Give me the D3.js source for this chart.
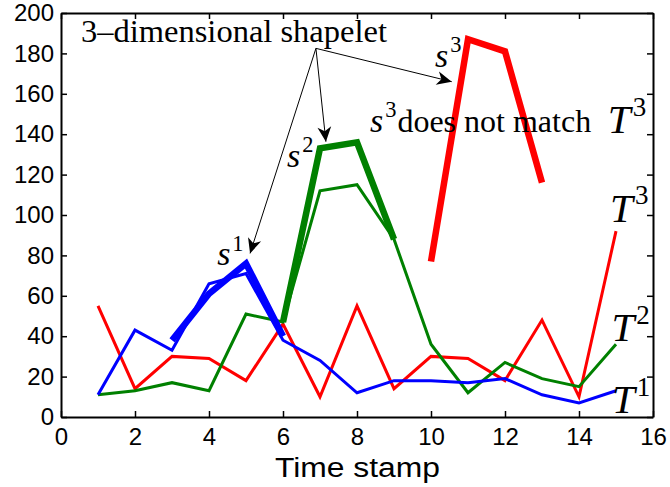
<!DOCTYPE html>
<html>
<head>
<meta charset="utf-8">
<script src="https://cdn.jsdelivr.net/npm/d3@7/dist/d3.min.js"></script>
<style>
  body { margin: 0; background: #fff; }
  svg { display: block; }
</style>
</head>
<body>
<div id="chart"></div>
<script>
// time stamps and the three series
const timeStamps = [1, 2, 3, 4, 5, 6, 7, 8, 9, 10, 11, 12, 13, 14, 15];
const seriesT1 = [11, 43, 33, 66, 71, 38, 28, 12, 18, 18, 17, 19, 11, 7, 13];
const seriesT2 = [11, 13, 17, 13, 51, 47, 112, 115, 88, 36, 12, 27, 19, 15, 36];
const seriesT3 = [55, 14, 30, 29, 18, 46, 10, 55, 14, 30, 29, 18, 48, 10, 92];

// the shapelet pieces (thick lines)
const s1Stamps = [3, 4, 5, 6];
const s1Values = [38, 61, 76, 40];
const s2Stamps = [6, 7, 8, 9];
const s2Values = [47, 133, 136, 88];
const s3Stamps = [10, 11, 12, 13];
const s3Values = [77, 187, 181, 116];

const xTicks = [0, 2, 4, 6, 8, 10, 12, 14, 16];
const yTicks = [0, 20, 40, 60, 80, 100, 120, 140, 160, 180, 200];

const width = 670, height = 487;
const margin = {top: 13, right: 17, bottom: 70, left: 61};

const svg = d3.select('#chart').append('svg')
    .attr('width', width)
    .attr('height', height);

const x = d3.scaleLinear().domain([0, 16]).range([margin.left, width - margin.right]);
const y = d3.scaleLinear().domain([0, 200]).range([height - margin.bottom, margin.top]);

const blue = '#0000ff', green = '#008000', red = '#ff0000';

const line = d3.line()
    .x(d => x(d[0]))
    .y(d => y(d[1]));

const zip = (xs, ys) => xs.map((v, i) => [v, ys[i]]);

// thin series first, then the thick shapelets on top
const lines = [
  {pts: zip(timeStamps, seriesT3), color: red, w: 3},
  {pts: zip(timeStamps, seriesT2), color: green, w: 3},
  {pts: zip(timeStamps, seriesT1), color: blue, w: 3},
  {pts: zip(s1Stamps, s1Values), color: blue, w: 6.5},
  {pts: zip(s2Stamps, s2Values), color: green, w: 6.5},
  {pts: zip(s3Stamps, s3Values), color: red, w: 6.5}
];

svg.append('g').selectAll('path')
  .data(lines)
  .join('path')
    .attr('d', d => line(d.pts))
    .attr('fill', 'none')
    .attr('stroke', d => d.color)
    .attr('stroke-width', d => d.w)
    .attr('stroke-linejoin', 'miter');

// axes box with inward ticks (matlab style)
const tickLen = 6;
const axisFont = '"Liberation Sans", Arial, sans-serif';

const bottomAxis = d3.axisBottom(x).tickValues(xTicks).tickSizeInner(-tickLen).tickSizeOuter(0).tickPadding(11);
const topAxis = d3.axisTop(x).tickValues(xTicks).tickSizeInner(-tickLen).tickSizeOuter(0).tickFormat('');
const leftAxis = d3.axisLeft(y).tickValues(yTicks).tickSizeInner(-tickLen).tickSizeOuter(0).tickPadding(12);
const rightAxis = d3.axisRight(y).tickValues(yTicks).tickSizeInner(-tickLen).tickSizeOuter(0).tickFormat('');

svg.append('g').attr('transform', `translate(0,${y(0)})`).call(bottomAxis);
svg.append('g').attr('transform', `translate(0,${y(200)})`).call(topAxis);
const gy = svg.append('g').attr('transform', `translate(${x(0)},0)`).call(leftAxis);
svg.append('g').attr('transform', `translate(${x(16)},0)`).call(rightAxis);

svg.selectAll('.domain').attr('stroke', '#000').attr('stroke-width', 2);
svg.selectAll('.tick line').attr('stroke', '#000').attr('stroke-width', 1.5);
svg.selectAll('.tick text')
    .attr('font-family', axisFont)
    .attr('font-size', 24)
    .attr('fill', '#000');
gy.selectAll('.tick text').attr('x', -7);

// x label, stretched a little to the reference width
svg.append('text')
    .attr('x', x(8) - 82)
    .attr('y', height - 10)
    .attr('font-family', axisFont)
    .attr('font-size', 27)
    .attr('textLength', 165)
    .attr('lengthAdjust', 'spacingAndGlyphs')
    .text('Time stamp');

// annotations
const serif = '"Liberation Serif", "Times New Roman", serif';

svg.append('text')
    .attr('x', x(0.54))
    .attr('y', y(185.8))
    .attr('font-family', serif)
    .attr('font-size', 32.5)
    .text('3\u2013dimensional shapelet');

// math-ish labels: italic letter + upright superscript, optional trailing text
const mathLabels = [
  {sym: 's', sup: '1', at: [4.22, 75.2], size: 34, rest: ''},
  {sym: 's', sup: '2', at: [6.11, 123.9], size: 34, rest: ''},
  {sym: 's', sup: '3', at: [10.11, 173.4], size: 34, rest: ''},
  {sym: 's', sup: '3', at: [8.35, 141.2], size: 34, rest: 'does not match'},
  {sym: 'T', sup: '3', at: [14.78, 140.6], size: 41, rest: ''},
  {sym: 'T', sup: '3', at: [14.84, 96.7], size: 41, rest: ''},
  {sym: 'T', sup: '2', at: [14.88, 37.4], size: 41, rest: ''},
  {sym: 'T', sup: '1', at: [14.89, 2], size: 41, rest: ''}
];

mathLabels.forEach(m => {
  const t = svg.append('text')
      .attr('x', x(m.at[0]))
      .attr('y', y(m.at[1]))
      .attr('font-family', serif)
      .attr('font-size', m.size);
  t.append('tspan').attr('font-style', 'italic').text(m.sym);
  t.append('tspan')
      .attr('dx', 2)
      .attr('dy', -m.size * 0.42)
      .attr('font-size', m.size * 0.66)
      .text(m.sup);
  if (m.rest) {
    t.append('tspan')
        .attr('dy', m.size * 0.42)
        .attr('dx', 1)
        .attr('font-size', 32)
        .text(m.rest);
  }
});

// arrows from under the title to each shapelet
const arrowFrom = [6.89, 182.5];
const arrowTips = [[5.11, 81], [7.16, 136.3], [10.56, 166]];

svg.append('defs').append('marker')
    .attr('id', 'head')
    .attr('markerUnits', 'userSpaceOnUse')
    .attr('markerWidth', 18)
    .attr('markerHeight', 18)
    .attr('refX', 0)
    .attr('refY', 0)
    .attr('viewBox', '-16 -8 17 16')
    .attr('orient', 'auto')
  .append('path')
    .attr('d', 'M0,0 L-14,-6.5 L-10,0 L-14,6.5 Z')
    .attr('fill', '#000');

svg.append('g').selectAll('line')
  .data(arrowTips)
  .join('line')
    .attr('x1', x(arrowFrom[0]))
    .attr('y1', y(arrowFrom[1]))
    .attr('x2', d => x(d[0]))
    .attr('y2', d => y(d[1]))
    .attr('stroke', '#000')
    .attr('stroke-width', 1)
    .attr('marker-end', 'url(#head)');
</script>
</body>
</html>
